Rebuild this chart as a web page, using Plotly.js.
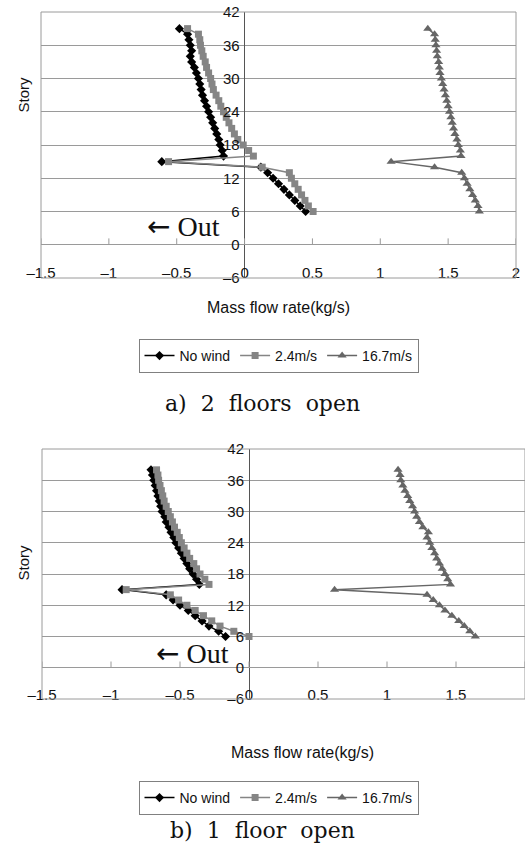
<!DOCTYPE html>
<html>
<head>
<meta charset="utf-8">
<script src="https://cdn.plot.ly/plotly-3.0.1.min.js"></script>
<style>html,body{margin:0;padding:0;background:#fff;}#chart{width:525px;height:860px;}</style>
</head>
<body>
<div id="chart"></div>
<script>
// ---------- data ----------
const xTickVals = [-1.5, -1, -0.5, 0, 0.5, 1, 1.5, 2];
const xTickText = ['\u20131.5', '\u20131', '\u20130.5', '0', '0.5', '1', '1.5', '2'];
const yTickVals = [-6, 0, 6, 12, 18, 24, 30, 36, 42];
const yTickText = ['\u20136', '0', '6', '12', '18', '24', '30', '36', '42'];
const seriesNames = ['No wind', '2.4m/s', '16.7m/s'];

// a) 2 floors open
const storiesA = [39,38,37,36,35,34,33,32,31,30,29,28,27,26,25,24,23,22,21,20,19,18,17,16,15,14,13,12,11,10,9,8,7,6];
const noWindA = [-0.48,-0.42,-0.41,-0.40,-0.39,-0.40,-0.39,-0.37,-0.355,-0.34,-0.33,-0.32,-0.31,-0.295,-0.28,-0.265,-0.25,-0.235,-0.22,-0.205,-0.19,-0.18,-0.165,-0.155,-0.61,0.12,0.17,0.21,0.25,0.29,0.33,0.37,0.41,0.45];
const wind24A = [-0.42,-0.34,-0.33,-0.325,-0.315,-0.305,-0.29,-0.28,-0.265,-0.25,-0.24,-0.23,-0.21,-0.19,-0.175,-0.155,-0.135,-0.115,-0.095,-0.075,-0.05,-0.01,0.03,0.065,-0.56,0.13,0.33,0.345,0.37,0.395,0.42,0.445,0.47,0.505];
const wind167A = [1.35,1.40,1.405,1.41,1.415,1.42,1.43,1.435,1.44,1.45,1.46,1.47,1.48,1.49,1.50,1.51,1.52,1.53,1.54,1.55,1.565,1.575,1.59,1.595,1.08,1.40,1.60,1.62,1.64,1.66,1.68,1.70,1.72,1.73];

// b) 1 floor open
const storiesB = [38,37,36,35,34,33,32,31,30,29,28,27,26,25,24,23,22,21,20,19,18,17,16,15,14,13,12,11,10,9,8,7,6];
const noWindB = [-0.71,-0.70,-0.69,-0.68,-0.67,-0.66,-0.65,-0.64,-0.63,-0.61,-0.60,-0.58,-0.565,-0.545,-0.53,-0.51,-0.49,-0.47,-0.45,-0.43,-0.405,-0.38,-0.36,-0.92,-0.60,-0.55,-0.50,-0.44,-0.39,-0.34,-0.29,-0.22,-0.17];
const wind24B = [-0.67,-0.66,-0.655,-0.645,-0.635,-0.625,-0.615,-0.60,-0.585,-0.57,-0.555,-0.54,-0.52,-0.505,-0.49,-0.47,-0.45,-0.43,-0.40,-0.38,-0.355,-0.32,-0.29,-0.89,-0.57,-0.51,-0.45,-0.39,-0.33,-0.27,-0.21,-0.11,0.0];
const wind167B = [1.08,1.095,1.10,1.115,1.13,1.15,1.165,1.185,1.20,1.215,1.235,1.26,1.30,1.29,1.31,1.325,1.345,1.36,1.38,1.40,1.42,1.44,1.46,0.62,1.29,1.335,1.38,1.42,1.47,1.52,1.56,1.60,1.64];

// ---------- styles ----------
const SANS = '"Liberation Sans", Arial, sans-serif';
const SERIF = '"DejaVu Serif", "Liberation Serif", serif';
const styles = [
  {color: '#000000', symbol: 'diamond', size: 7},
  {color: '#858585', symbol: 'square', size: 7},
  {color: '#666666', symbol: 'triangle-up', size: 8}
];

function makeTraces(stories, seriesList, xa, ya, leg) {
  return seriesList.map((vals, i) => ({
    type: 'scatter', mode: 'lines+markers',
    x: vals, y: stories,
    name: seriesNames[i],
    xaxis: xa, yaxis: ya, legend: leg,
    line: {color: styles[i].color, width: 1.5},
    marker: {color: styles[i].color, symbol: styles[i].symbol, size: styles[i].size}
  }));
}

const traces = [
  ...makeTraces(storiesA, [noWindA, wind24A, wind167A], 'x', 'y', 'legend'),
  ...makeTraces(storiesB, [noWindB, wind24B, wind167B], 'x2', 'y2', 'legend2')
];

const W = 525, H = 860;
const topDom = {x: [41 / W, 516 / W], y: [1 - 278 / H, 1 - 12 / H]};
const botDom = {x: [42 / W, 1.0], y: [1 - 699 / H, 1 - 449 / H]};

function zeroFrac(dom) {
  return dom.x[0] + (dom.x[1] - dom.x[0]) * (0 - (-1.5)) / (2 - (-1.5));
}

function xAxis(dom, labelPx) {
  return {
    domain: dom.x, range: [-1.5, 2], anchor: 'free', position: 1 - labelPx / H,
    tickmode: 'array', tickvals: xTickVals, ticktext: xTickText,
    showgrid: false, zeroline: true, zerolinecolor: '#555555', zerolinewidth: 1,
    showline: false, ticks: '', fixedrange: true,
    tickfont: {family: SANS, size: 15, color: '#111'}
  };
}
function yAxis(dom) {
  return {
    domain: dom.y, range: [-6, 42], anchor: 'free', position: zeroFrac(dom),
    tickmode: 'array', tickvals: yTickVals, ticktext: yTickText,
    showgrid: true, gridcolor: '#9a9a9a', gridwidth: 1,
    zeroline: true, zerolinecolor: '#9a9a9a', zerolinewidth: 1,
    showline: false, ticks: '', ticklabelstandoff: 5, fixedrange: true,
    tickfont: {family: SANS, size: 15, color: '#111'}
  };
}

const shapes = [];
[['x', 'y', 1.15], ['x2', 'y2', 1.2]].forEach(([xa, ya, h]) => {
  shapes.push({type: 'rect', xref: xa + ' domain', yref: ya + ' domain', x0: 0, x1: 1, y0: 0, y1: 1,
    line: {color: '#9a9a9a', width: 1}, layer: 'above'});
  xTickVals.forEach(v => {
    shapes.push({type: 'line', xref: xa, yref: ya, x0: v, x1: v, y0: 0, y1: h,
      line: {color: '#9a9a9a', width: 1}});
  });
});

const outText = '<span style="font-family:\'DejaVu Sans\'">\u2190</span> Out';
const annotations = [
  {text: 'Story', xref: 'paper', yref: 'paper', x: 12 / W, y: 1 - 75 / H, textangle: -90, showarrow: false,
   font: {family: SANS, size: 15, color: '#111'}},
  {text: 'Story', xref: 'paper', yref: 'paper', x: 12 / W, y: 1 - 583 / H, textangle: -90, showarrow: false,
   font: {family: SANS, size: 15, color: '#111'}},
  {text: 'Mass flow rate(kg/s)', xref: 'paper', yref: 'paper', x: 278.5 / W, y: 1 - 307 / H, showarrow: false,
   font: {family: SANS, size: 16, color: '#111'}},
  {text: 'Mass flow rate(kg/s)', xref: 'paper', yref: 'paper', x: 302 / W, y: 1 - 763 / H, showarrow: false,
   font: {family: SANS, size: 16, color: '#111'}},
  {text: outText, xref: 'x', yref: 'y', x: -0.45, y: 3.25, showarrow: false,
   font: {family: '"Liberation Serif", serif', size: 28, color: '#111'}},
  {text: outText, xref: 'x2', yref: 'y2', x: -0.41, y: 2.75, showarrow: false,
   font: {family: '"Liberation Serif", serif', size: 28, color: '#111'}},
  {text: 'a)\u00a0 2\u00a0 floors\u00a0 open', xref: 'paper', yref: 'paper', x: 262 / W, y: 1 - 403 / H, showarrow: false,
   font: {family: SERIF, size: 22, color: '#111'}},
  {text: 'b)\u00a0 1\u00a0 floor\u00a0 open', xref: 'paper', yref: 'paper', x: 262 / W, y: 1 - 845 / H, showarrow: false,
   font: {family: SERIF, size: 22, color: '#111'}}
];

const legendBase = {
  orientation: 'h', xanchor: 'center', yanchor: 'top', x: 278.5 / W,
  bordercolor: '#808080', borderwidth: 1, bgcolor: '#ffffff',
  font: {family: SANS, size: 14, color: '#111'}, itemwidth: 30, traceorder: 'normal'
};

const layout = {
  width: W, height: H,
  margin: {l: 0, r: 0, t: 0, b: 0, pad: 0},
  paper_bgcolor: '#ffffff', plot_bgcolor: '#ffffff',
  showlegend: true,
  xaxis: xAxis(topDom, 262),
  yaxis: yAxis(topDom),
  xaxis2: xAxis(botDom, 684),
  yaxis2: yAxis(botDom),
  legend: Object.assign({}, legendBase, {y: 1 - 339 / H}),
  legend2: Object.assign({}, legendBase, {y: 1 - 781 / H}),
  shapes: shapes,
  annotations: annotations
};

Plotly.newPlot('chart', traces, layout, {staticPlot: true, displayModeBar: false});
</script>
</body>
</html>
